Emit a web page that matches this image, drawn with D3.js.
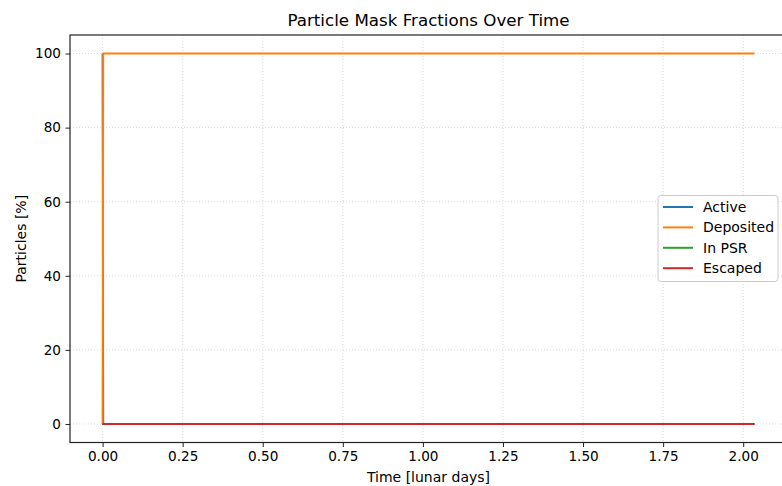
<!DOCTYPE html>
<html>
<head>
<meta charset="utf-8">
<script src="https://cdn.jsdelivr.net/npm/d3@7"></script>
<style>
  html, body { margin: 0; padding: 0; background: #fff; overflow: hidden; }
  svg { display: block; font-family: "DejaVu Sans", sans-serif; }
</style>
</head>
<body>
<svg id="chart" width="782" height="486"></svg>
<script>
// Time samples in lunar days
const times = [0, 0.002, 0.125, 0.25, 0.375, 0.5, 0.625, 0.75, 0.875, 1.0, 1.125, 1.25, 1.375, 1.5, 1.625, 1.75, 1.875, 2.0, 2.035];
// Particle fractions in percent for each mask
const active    = [100, 0, 0, 0, 0, 0, 0, 0, 0, 0, 0, 0, 0, 0, 0, 0, 0, 0, 0];
const deposited = [0, 100, 100, 100, 100, 100, 100, 100, 100, 100, 100, 100, 100, 100, 100, 100, 100, 100, 100];
const inPsr     = [0, 0, 0, 0, 0, 0, 0, 0, 0, 0, 0, 0, 0, 0, 0, 0, 0, 0, 0];
const escaped   = [0, 0, 0, 0, 0, 0, 0, 0, 0, 0, 0, 0, 0, 0, 0, 0, 0, 0, 0];

const seriesNames  = ["Active", "Deposited", "In PSR", "Escaped"];
const seriesColors = ["#1f77b4", "#ff7f0e", "#2ca02c", "#d62728"];
const seriesValues = [active, deposited, inPsr, escaped];

const xTicks = [0, 0.25, 0.5, 0.75, 1.0, 1.25, 1.5, 1.75, 2.0];
const yTicks = [0, 20, 40, 60, 80, 100];

const svg = d3.select("#chart");
const plotLeft = 70, plotRight = 787, plotTop = 35, plotBottom = 442.5;

// Axis limits with 5% padding around the data range
const xMin = d3.min(times), xMax = d3.max(times);
const xPad = (xMax - xMin) * 0.05;
const x = d3.scaleLinear().domain([xMin - xPad, xMax + xPad]).range([plotLeft, plotRight]);
const y = d3.scaleLinear().domain([-5, 105]).range([plotBottom, plotTop]);

// Grid
const grid = svg.append("g");
grid.selectAll(".gx").data(xTicks).enter().append("line")
  .attr("x1", d => x(d)).attr("x2", d => x(d))
  .attr("y1", plotTop).attr("y2", plotBottom)
  .attr("stroke", "#b0b0b0").attr("stroke-width", 0.8)
  .attr("stroke-dasharray", "1,2").attr("opacity", 0.6);
grid.selectAll(".gy").data(yTicks).enter().append("line")
  .attr("x1", plotLeft).attr("x2", plotRight)
  .attr("y1", d => y(d)).attr("y2", d => y(d))
  .attr("stroke", "#b0b0b0").attr("stroke-width", 0.8)
  .attr("stroke-dasharray", "1,2").attr("opacity", 0.6);

// Series lines
const line = d3.line().x((d, i) => x(times[i])).y(d => y(d));
seriesValues.forEach((vals, k) => {
  svg.append("path")
    .datum(vals)
    .attr("d", line)
    .attr("fill", "none")
    .attr("stroke", seriesColors[k])
    .attr("stroke-width", 2)
    .attr("stroke-linejoin", "miter");
});

// Axes
const xAxis = d3.axisBottom(x).tickValues(xTicks).tickFormat(d3.format(".2f")).tickSize(4.5).tickPadding(4.5);
const yAxis = d3.axisLeft(y).tickValues(yTicks).tickFormat(d3.format("d")).tickSize(4.5).tickPadding(4.5);

const gx = svg.append("g").attr("transform", `translate(0,${plotBottom})`).call(xAxis);
const gy = svg.append("g").attr("transform", `translate(${plotLeft},0)`).call(yAxis);
[gx, gy].forEach(g => {
  g.select(".domain").remove();
  g.selectAll(".tick line").attr("stroke", "#222").attr("stroke-width", 1);
  g.selectAll(".tick text").attr("fill", "#000").attr("font-size", 13.6).attr("font-family", "DejaVu Sans, sans-serif");
});

// Frame
svg.append("rect")
  .attr("x", plotLeft).attr("y", plotTop)
  .attr("width", plotRight - plotLeft).attr("height", plotBottom - plotTop)
  .attr("fill", "none").attr("stroke", "#222").attr("stroke-width", 1.2);

// Title and axis labels
svg.append("text").attr("x", (plotLeft + plotRight) / 2).attr("y", 26)
  .attr("text-anchor", "middle").attr("font-size", 16.7).attr("fill", "#000")
  .text("Particle Mask Fractions Over Time");
svg.append("text").attr("x", (plotLeft + plotRight) / 2).attr("y", 482)
  .attr("text-anchor", "middle").attr("font-size", 14).attr("fill", "#000")
  .text("Time [lunar days]");
svg.append("text")
  .attr("transform", `translate(26,${(plotTop + plotBottom) / 2}) rotate(-90)`)
  .attr("text-anchor", "middle").attr("font-size", 14).attr("fill", "#000")
  .text("Particles [%]");

// Legend
const lg = svg.append("g").attr("transform", "translate(658,195.5)");
lg.append("rect").attr("width", 120).attr("height", 86).attr("rx", 3)
  .attr("fill", "#fff").attr("fill-opacity", 0.8)
  .attr("stroke", "#ccc").attr("stroke-width", 1);
seriesNames.forEach((name, k) => {
  const yy = 11.5 + k * 20.4;
  lg.append("line").attr("x1", 5).attr("x2", 35).attr("y1", yy).attr("y2", yy)
    .attr("stroke", seriesColors[k]).attr("stroke-width", 2);
  lg.append("text").attr("x", 45).attr("y", yy).attr("dy", "0.35em")
    .attr("font-size", 14).attr("fill", "#000").text(name);
});
</script>
</body>
</html>
